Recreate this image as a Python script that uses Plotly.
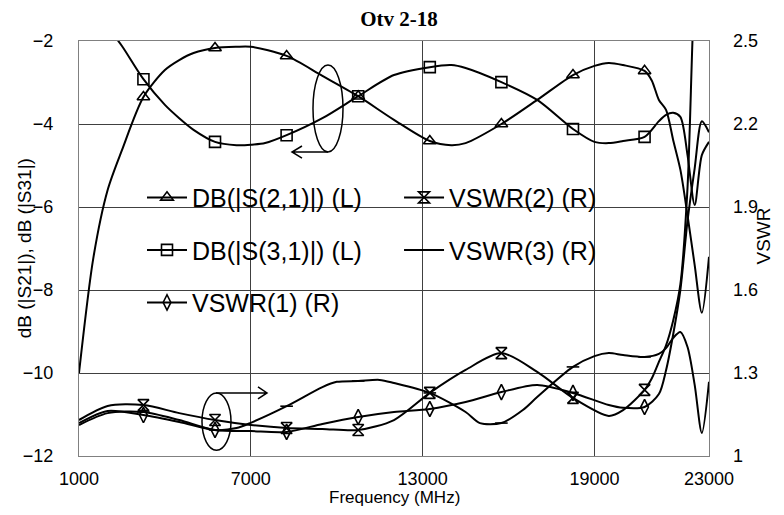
import plotly.graph_objects as go

# marker frequencies (MHz)
MARK_F = [3250, 5750, 8250, 10750, 13250, 15750, 18250, 20750]

# DB(|S(2,1)|), left axis
s21_f = [1000, 1500, 2000, 2500, 3250, 4000, 4500, 5000, 5750, 6500, 7000, 8250, 9500,
         10750, 12000, 13250, 14000, 14500, 15750, 17000, 18250, 19000, 19500, 20000,
         20750, 21000, 21250, 21500, 21750, 22000, 22250, 22500, 22750, 23000]
s21_db = [-10.0, -7.23, -5.59, -4.63, -3.35, -2.70, -2.46, -2.29, -2.17, -2.14, -2.14, -2.36, -2.84,
          -3.33, -3.90, -4.41, -4.51, -4.46, -4.00, -3.42, -2.82, -2.60, -2.53, -2.58,
          -2.72, -2.95, -3.42, -3.66, -4.39, -5.10, -6.20, -7.40, -8.55, -7.20]

# DB(|S(3,1)|), left axis
s31_f = [1000, 1500, 2000, 2500, 3250, 4000, 4500, 5000, 5750, 6500, 7000, 7500, 8250, 9500,
         10750, 12000, 13250, 14000, 14500, 15750, 17000, 18250, 19000, 19500, 20000,
         20750, 21250, 21500, 21750, 22000, 22250, 22500, 22750, 23000]
s31_db = [-0.70, -1.17, -1.66, -2.12, -2.92, -3.54, -3.86, -4.14, -4.43, -4.51, -4.50, -4.46, -4.27, -3.86,
          -3.33, -2.82, -2.63, -2.58, -2.65, -2.99, -3.42, -4.12, -4.43, -4.46, -4.41,
          -4.31, -3.93, -3.78, -3.73, -3.83, -4.75, -5.95, -4.75, -4.43]

# VSWR(1), right axis
v1_f = [1000, 2000, 3250, 4500, 5750, 7000, 8250, 9500, 10750, 12000, 13250, 14500, 15750,
        17000, 18250, 19500, 20000, 20750, 21250, 21500, 21750, 22000, 22250, 22500, 22750, 23000]
v1 = [1.119, 1.163, 1.148, 1.123, 1.094, 1.090, 1.087, 1.116, 1.141, 1.159, 1.170, 1.195, 1.231,
      1.257, 1.228, 1.184, 1.174, 1.177, 1.224, 1.31, 1.44, 1.60, 1.85, 2.04, 2.21, 2.17]

# VSWR(2), right axis
v2_f = [1000, 2000, 3250, 4500, 5750, 7000, 8250, 9500, 10750, 12000, 13250, 14500, 15750,
        17000, 18250, 19500, 20000, 20750, 21000, 21250, 21500, 21750, 22000, 22250, 22500, 22750, 23000]
v2 = [1.130, 1.181, 1.184, 1.155, 1.130, 1.112, 1.101, 1.098, 1.094, 1.130, 1.228, 1.311, 1.372,
      1.304, 1.210, 1.145, 1.166, 1.239, 1.28, 1.34, 1.40, 1.49, 1.62, 1.97, 2.70, 3.0, 3.0]

# VSWR(3), right axis
v3_f = [1000, 2000, 3250, 4500, 5750, 6500, 7000, 8250, 9500, 10000, 10750, 11500, 12000, 13250,
        14500, 15000, 15750, 16500, 17000, 18250, 19000, 19500, 20000, 20750, 21250, 21500,
        21750, 22000, 22250, 22500, 22750, 23000]
v3 = [1.112, 1.155, 1.159, 1.130, 1.094, 1.101, 1.120, 1.180, 1.249, 1.268, 1.271, 1.275, 1.264, 1.228,
      1.159, 1.119, 1.119, 1.166, 1.213, 1.322, 1.361, 1.372, 1.365, 1.358, 1.369, 1.39,
      1.427, 1.448, 1.394, 1.257, 1.083, 1.268]

x_ticks = [1000, 7000, 13000, 19000, 23000]

FONT = "Liberation Sans, Arial, sans-serif"
BLACK = "black"

series = [
    ("DB(|S(2,1)|) (L)", s21_f, s21_db, "y", "triangle-up-open", 11, "legend"),
    ("DB(|S(3,1)|) (L)", s31_f, s31_db, "y", "square-open", 11, "legend"),
    ("VSWR(1) (R)", v1_f, v1, "y2", "diamond-tall-open", 11, "legend"),
    ("VSWR(2) (R)", v2_f, v2, "y2", "hourglass-open", 11, "legend2"),
    ("VSWR(3) (R)", v3_f, v3, "y2", "line-ew-open", 9, "legend2"),
]

fig = go.Figure()
for name, xs, ys, yax, sym, size, leg in series:
    fig.add_trace(go.Scatter(
        x=xs, y=ys, yaxis=yax, mode="lines", showlegend=False,
        line=dict(color=BLACK, width=2, shape="spline", smoothing=0.8),
        hoverinfo="skip"))
    mx = [f for f in xs if f in MARK_F]
    my = [v for f, v in zip(xs, ys) if f in MARK_F]
    fig.add_trace(go.Scatter(
        x=mx, y=my, yaxis=yax, mode="markers", showlegend=False,
        marker=dict(symbol=sym, size=size, color=BLACK, line=dict(color=BLACK, width=1.6))))
    # legend entry
    fig.add_trace(go.Scatter(
        x=[None], y=[None], yaxis=yax, mode="lines+markers", name=name,
        legend=leg, legendgroup=name,
        line=dict(color=BLACK, width=2),
        marker=dict(symbol=sym, size=size, color=BLACK, line=dict(color=BLACK, width=1.6))))

legend_style = dict(
    font=dict(family=FONT, size=25, color=BLACK),
    bgcolor="rgba(0,0,0,0)", borderwidth=0, itemwidth=40,
    traceorder="grouped", tracegroupgap=17,
    xanchor="left", yanchor="top",
)

# the page adds an 8px body margin, so the figure is shrunk and offset to compensate
fig.update_layout(
    width=768, height=499,
    margin=dict(l=71, r=67, t=33, b=51),
    paper_bgcolor="white", plot_bgcolor="white",
    title=dict(text="<b>Otv 2-18</b>", x=0.508, xref="paper", xanchor="center",
               y=0.978, yanchor="middle",
               font=dict(family="Liberation Serif, Times New Roman, serif", size=21, color=BLACK)),
    legend=dict(x=0.1, y=0.678, **legend_style),
    legend2=dict(x=0.508, y=0.678, **legend_style),
    xaxis=dict(range=[1000, 23000], tickvals=x_ticks, tickformat="d",
               showgrid=True, gridcolor="#404040", gridwidth=1, zeroline=False,
               showline=True, linecolor="#808080", linewidth=1, mirror=True,
               ticks="", ticklabelstandoff=6,
               tickfont=dict(family=FONT, size=18, color=BLACK)),
    yaxis=dict(range=[-12, -2], dtick=2, showgrid=True, gridcolor="#404040", gridwidth=1,
               zeroline=False, showline=True, linecolor="#808080", linewidth=1, mirror=True,
               ticks="", ticklabelstandoff=21,
               tickfont=dict(family=FONT, size=18, color=BLACK)),
    yaxis2=dict(range=[1, 2.5], tick0=1, dtick=0.3, overlaying="y", side="right", showgrid=False,
                zeroline=False, showline=False, ticks="", ticklabelstandoff=23,
                tickformat="~g",
                tickfont=dict(family=FONT, size=18, color=BLACK)),
    showlegend=True,
)

# white area behind the legend (hides gridlines)
fig.add_shape(type="rect", xref="paper", yref="paper", x0=0.0905, x1=0.897, y0=0.308, y1=0.682,
              fillcolor="white", line=dict(width=0), layer="between")

# ellipses and arrows pointing to the axis used
fig.add_shape(type="circle", xref="x", yref="y", x0=9171, x1=10219, y0=-4.675, y1=-2.578,
              line=dict(color=BLACK, width=1.5))
fig.add_shape(type="path", xref="x", yref="y",
              path="M 9695,-4.675 L 8438,-4.675 M 8787,-4.53 L 8438,-4.675 L 8787,-4.82",
              line=dict(color=BLACK, width=1.5))
fig.add_shape(type="circle", xref="x", yref="y", x0=5295, x1=6308, y0=-11.86, y1=-10.48,
              line=dict(color=BLACK, width=1.5))
fig.add_shape(type="path", xref="x", yref="y",
              path="M 5784,-10.48 L 7565,-10.48 M 7250,-10.335 L 7565,-10.48 L 7250,-10.625",
              line=dict(color=BLACK, width=1.5))

# axis titles
fig.add_annotation(text="Frequency (MHz)", xref="paper", yref="paper", x=0.5, y=-0.1012,
                   xanchor="center", yanchor="middle", showarrow=False,
                   font=dict(family=FONT, size=17, color=BLACK))
fig.add_annotation(text="dB (|S21|), dB (|S31|)", xref="paper", yref="paper", x=-0.086, y=0.5,
                   xanchor="center", yanchor="middle", textangle=-90, showarrow=False,
                   font=dict(family=FONT, size=19, color=BLACK))
fig.add_annotation(text="VSWR", xref="paper", yref="paper", x=1.1063, y=0.53,
                   xanchor="right", yanchor="middle", textangle=-90, showarrow=False,
                   font=dict(family=FONT, size=19, color=BLACK))

fig.write_html("out.html")
